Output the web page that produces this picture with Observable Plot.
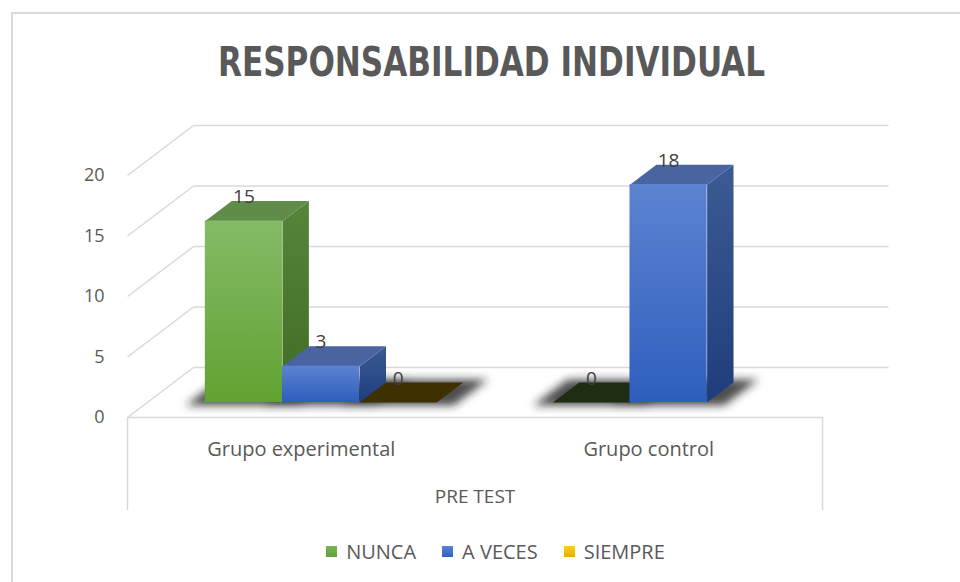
<!DOCTYPE html>
<html><head><meta charset="utf-8">
<script src="https://cdn.jsdelivr.net/npm/d3@7"></script>
<script src="https://cdn.jsdelivr.net/npm/@observablehq/plot@0.6"></script>
<style>
html,body{margin:0;padding:0;background:#fff;overflow:hidden;}
#wrap{position:relative;width:960px;height:582px;overflow:hidden;font-family:"Open Sans",sans-serif;}
#border{position:absolute;left:11px;top:12px;width:1200px;height:1200px;border-left:2px solid #d9d9d9;border-top:2px solid #d9d9d9;}
#chart{position:absolute;left:0;top:0;}
#legend{position:absolute;top:539px;left:0;width:991px;height:24px;display:flex;justify-content:center;align-items:center;color:#595959;font-size:20px;}
#legend .item{display:flex;align-items:center;margin:0 13px;}
#legend .sw{width:11px;height:11px;margin-right:9px;}
</style></head>
<body><div id="wrap"><div id="border"></div><div id="chart"></div><div id="legend"></div></div>
<script>
// ---- data ----
const title = "RESPONSABILIDAD INDIVIDUAL";
const outerCategory = "PRE TEST";
const categories = ["Grupo experimental", "Grupo control"];
const series = ["NUNCA", "A VECES", "SIEMPRE"];
const nunca = [15, 0];
const aVeces = [3, 18];
const siempre = [0, null];
const yTicks = [0, 5, 10, 15, 20];

// ---- styles ----
const gridColor = "#d9d9d9";
const textColor = "#595959";
const frontFill = {"NUNCA": "url(#gFrontN)", "A VECES": "url(#gFrontA)", "SIEMPRE": "url(#gFrontS)"};
const sideFill = {"NUNCA": "url(#gSideN)", "A VECES": "url(#gSideA)", "SIEMPRE": "url(#gSideS)"};
const topFill = {"NUNCA": "#608c49", "A VECES": "#4964a0", "SIEMPRE": "#a07f10"};
const zeroTopFill = {"NUNCA": "#1f2d12", "A VECES": "#1c2a4a", "SIEMPRE": "#3f3000"};
const legendSwatch = {"NUNCA": "linear-gradient(#7ab555,#62a035)", "A VECES": "linear-gradient(#5a82d2,#3061c0)", "SIEMPRE": "linear-gradient(#ffcc22,#e8ae00)"};

// 3-D view parameters (in data units)
const DX = 66 / 347.5;   // depth shift along x (category units)
const DY = 50 / 12.1;    // depth shift along y (value units)
const D0 = 0.3, D1 = 0.7; // bar depth band
const BW = 0.222;        // bar width (category units)

const valuesBySeries = [nunca, aVeces, siempre];
const bars = [];
categories.forEach((c, i) => {
  series.forEach((s, k) => {
    const v = valuesBySeries[k][i];
    if (v == null) return;
    const x1 = i + (k - 1.5) * BW, x2 = x1 + BW;
    bars.push({id: `${i}-${k}`, cat: c, series: s, v, x1, x2});
  });
});
const P = (x, y, d) => ({x: x + d * DX, y: y + d * DY});

const shadowPts = [], sidePts = [], topPts = [];
for (const b of bars) {
  const sx1 = b.x1 - 0.045, sx2 = b.x2 + 0.06;
  [[sx1, D0 - 0.06], [sx2, D0 - 0.06], [sx2, D1 + 0.06], [sx1, D1 + 0.06]].forEach(([x, d]) => shadowPts.push({id: b.id, ...P(x, 0, d)}));
  if (b.v > 0) {
    [[0, D0], [0, D1], [b.v, D1], [b.v, D0]].forEach(([y, d]) => sidePts.push({id: b.id, fill: sideFill[b.series], ...P(b.x2, y, d)}));
  }
  const tf = b.v > 0 ? topFill[b.series] : zeroTopFill[b.series];
  [[b.x1, D0], [b.x2, D0], [b.x2, D1], [b.x1, D1]].forEach(([x, d]) => topPts.push({id: b.id, fill: tf, ...P(x, b.v, d)}));
}
const frontBars = bars.filter(b => b.v > 0);

const plot = Plot.plot({
  width: 960, height: 582,
  marginLeft: 127, marginRight: 138, marginTop: 175, marginBottom: 165,
  x: {domain: [-0.5, 1.5], axis: null},
  y: {domain: [0, 20], axis: null},
  color: {type: "identity"},
  style: {fontFamily: "'Open Sans', sans-serif", fontSize: "18px", color: textColor, background: "transparent", overflow: "visible"},
  marks: [
    // back wall gridlines
    Plot.link(yTicks, {x1: () => -0.5 + DX, x2: () => 1.5 + DX, y1: v => v + DY, y2: v => v + DY, stroke: gridColor, strokeWidth: 1.5}),
    // left wall diagonals
    Plot.link(yTicks, {x1: () => -0.5, y1: v => v, x2: () => -0.5 + DX, y2: v => v + DY, stroke: gridColor, strokeWidth: 1.5}),
    // floor front edge / category box
    Plot.ruleY([0], {x1: -0.5, x2: 1.5, stroke: gridColor, strokeWidth: 1.5}),
    Plot.axisX({ticks: [-0.5, 1.5], tickSize: 93, tickFormat: () => "", label: null, stroke: gridColor, strokeWidth: 1.5}),
    // shadows
    Plot.line(shadowPts, {x: "x", y: "y", z: "id", fill: "#202020", fillOpacity: 0.8, stroke: "none", curve: "linear-closed"}),
    // side faces
    Plot.line(sidePts, {x: "x", y: "y", z: "id", fill: "fill", stroke: "none", curve: "linear-closed"}),
    // top faces
    Plot.line(topPts, {x: "x", y: "y", z: "id", fill: "fill", stroke: "none", curve: "linear-closed"}),
    // front faces
    Plot.rect(frontBars, {x1: b => b.x1 + D0 * DX, x2: b => b.x2 + D0 * DX, y1: () => D0 * DY, y2: b => b.v + D0 * DY, fill: b => frontFill[b.series], inset: 0}),
    // value labels
    Plot.text(bars, {x: b => (b.x1 + b.x2) / 2 + D0 * DX, y: b => b.v + D1 * DY, dy: -4, text: b => String(b.v), fill: "#404040", fontSize: 19}),
    // y axis labels
    Plot.axisY(yTicks, {tickSize: 0, tickPadding: 23, label: null, fill: textColor, fontSize: 18}),
    // category labels
    Plot.text(categories, {x: (d, i) => i, y: () => 0, dy: 32, text: d => d, fill: textColor, fontSize: 20}),
    Plot.text([outerCategory], {x: () => 0.5, y: () => 0, dy: 79, text: d => d, fill: textColor, fontSize: 19}),
    // title
    Plot.text([title], {frameAnchor: "top", lineAnchor: "middle", dx: 16.5, dy: -112, text: d => d, fill: textColor, fontSize: 40, fontWeight: "bold", fontFamily: "'Liberation Sans Narrow','DejaVu Sans Condensed','Open Sans',sans-serif"})
  ]
});

const svg = d3.select(plot);
const defs = svg.insert("defs", ":first-child");
const grad = (id, c1, c2) => {
  const g = defs.append("linearGradient").attr("id", id).attr("x1", 0).attr("y1", 0).attr("x2", 0).attr("y2", 1);
  g.append("stop").attr("offset", "0%").attr("stop-color", c1);
  g.append("stop").attr("offset", "100%").attr("stop-color", c2);
};
grad("gFrontN", "#84bb66", "#62a232");
grad("gSideN", "#55863b", "#3e6c22");
grad("gFrontA", "#5c83d1", "#2e5ebd");
grad("gSideA", "#3c5b94", "#1f3d7d");
grad("gFrontS", "#ffcc33", "#e8ae00");
grad("gSideS", "#b08a10", "#8a6a00");
const f = defs.append("filter").attr("id", "blur").attr("x", "-50%").attr("y", "-50%").attr("width", "200%").attr("height", "200%");
f.append("feGaussianBlur").attr("stdDeviation", 4);
svg.selectAll('g[fill="#202020"], path[fill="#202020"]').attr("filter", "url(#blur)");
svg.selectAll("text").filter(function() { return this.textContent === title; })
  .attr("textLength", 547).attr("lengthAdjust", "spacingAndGlyphs");
document.getElementById("chart").appendChild(plot);

// legend
const lg = d3.select("#legend");
series.forEach(s => {
  const it = lg.append("div").attr("class", "item");
  it.append("div").attr("class", "sw").style("background", legendSwatch[s]);
  it.append("span").text(s);
});
</script>
</body></html>
